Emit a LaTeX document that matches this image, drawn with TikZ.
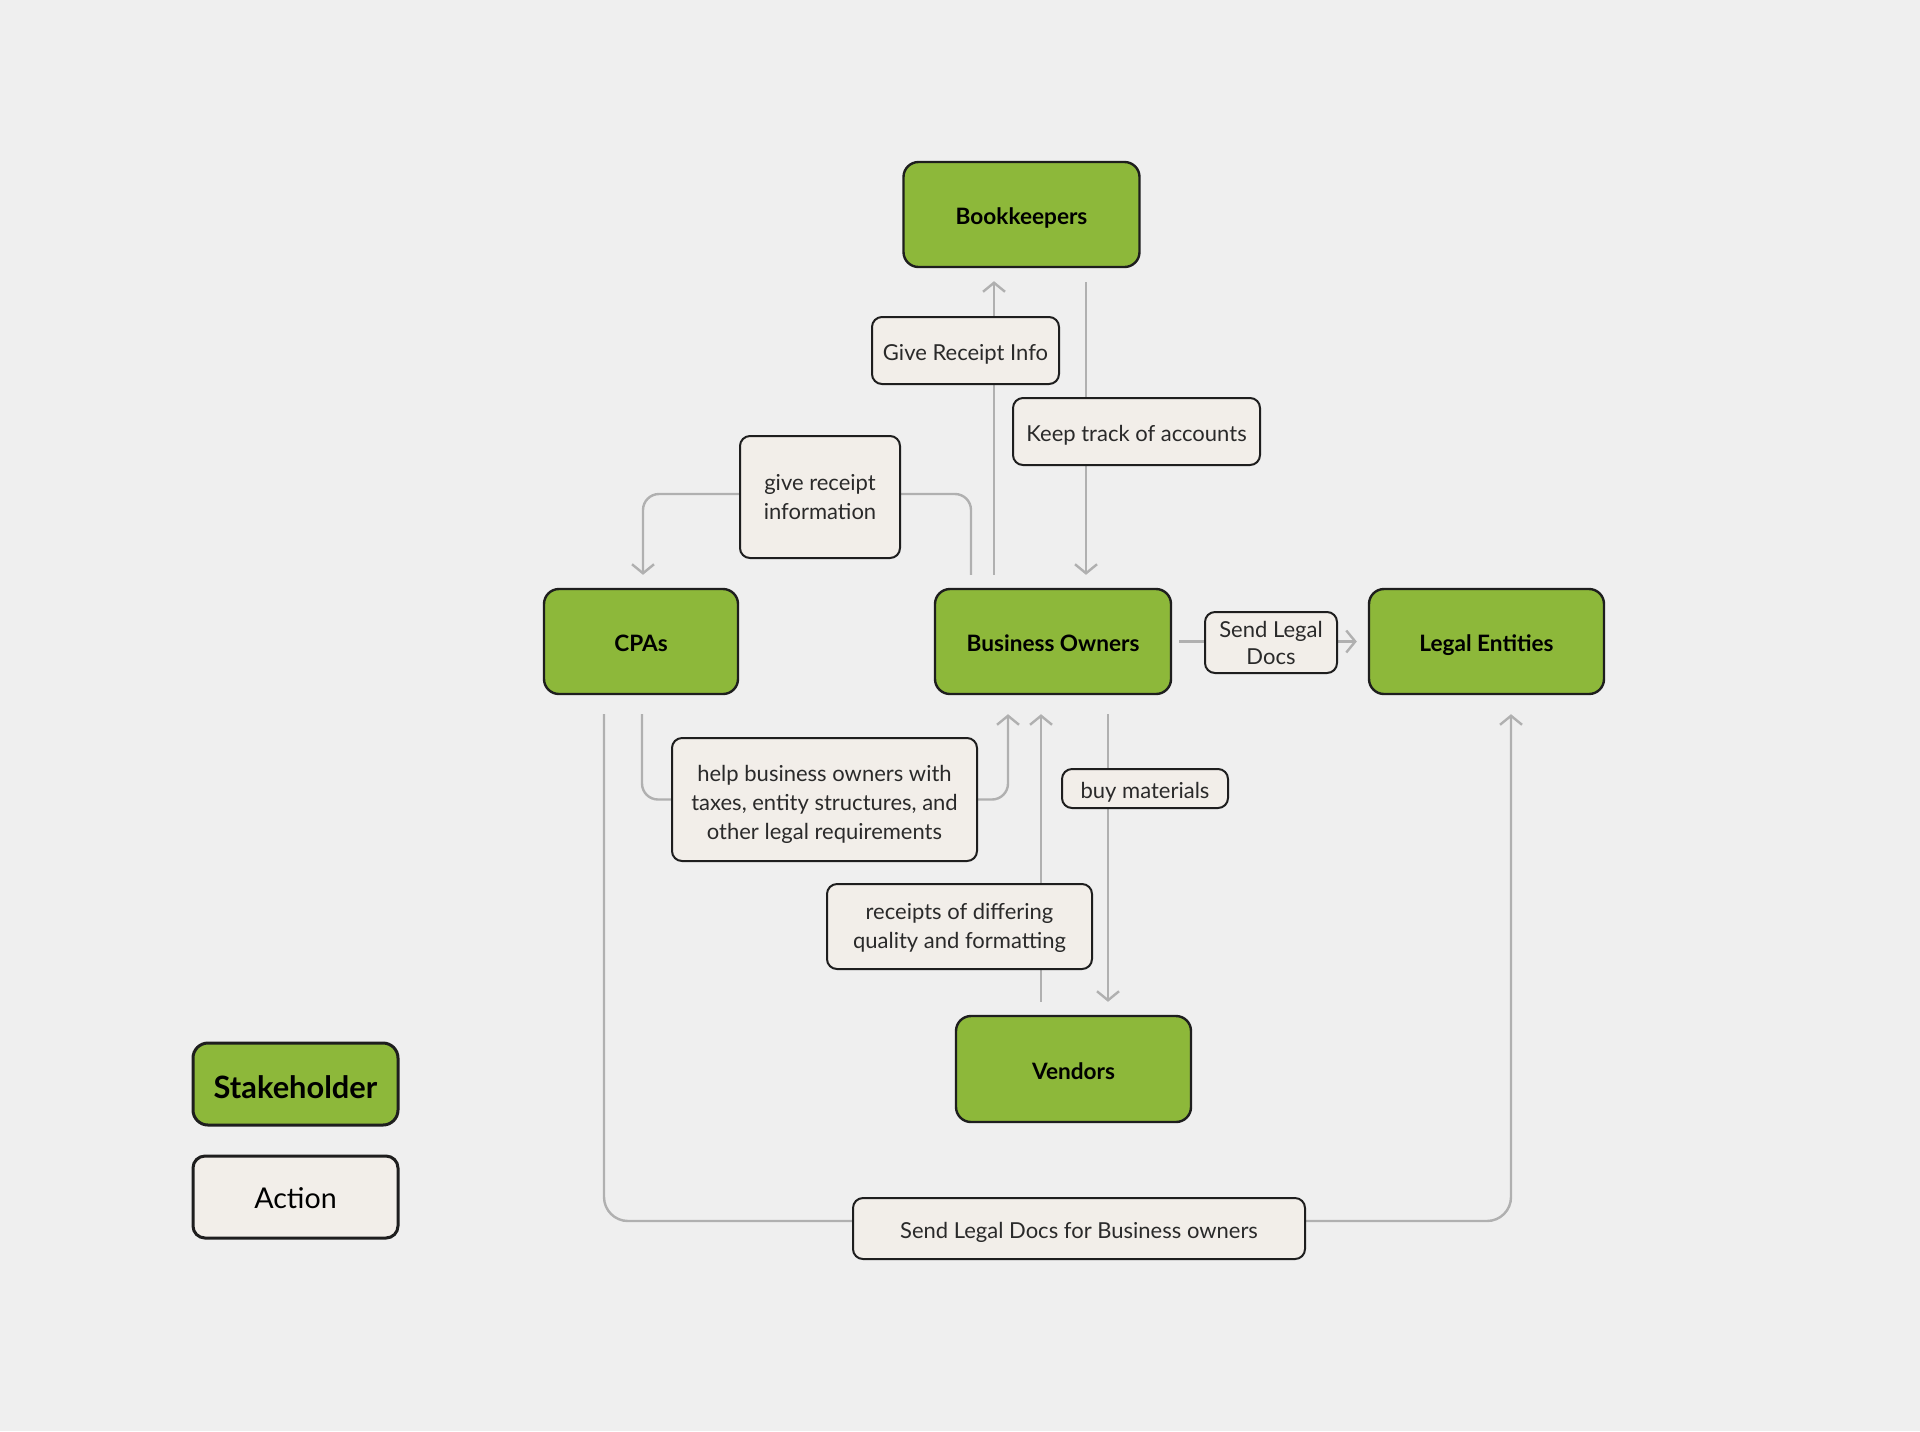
\documentclass[tikz,border=0pt]{standalone}
\usepackage{fontspec}
\setmainfont{Lato}
\usetikzlibrary{calc,arrows.meta}
\definecolor{bgc}{HTML}{EFEFEF}
\definecolor{grn}{HTML}{8DB83A}
\definecolor{actfill}{HTML}{F2EEE9}
\definecolor{bord}{HTML}{1E1E1E}
\definecolor{connc}{HTML}{B0B0B0}
\definecolor{txt}{HTML}{2A2A2A}
\pgfdeclarelayer{bglayer}
\pgfdeclarelayer{lines}
\pgfsetlayers{bglayer,lines,main}
\tikzset{
  stake/.style={draw=bord, line width=1.2pt, fill=grn, rounded corners=7.5pt,
    font=\bfseries\fontsize{11.3}{13.5}\selectfont, text=black, inner sep=0pt, align=center,
    text height=12.5pt, text depth=2.5pt},
  act/.style={draw=bord, line width=1pt, fill=actfill, rounded corners=5pt,
    font=\fontsize{11}{14.7}\selectfont, text=txt, inner sep=0pt, align=center},
  oneline/.style={text height=12.5pt, text depth=2.5pt},
  conn/.style={draw=connc, line width=1.2pt, rounded corners=8pt,
    -{Straight Barb[length=4.5pt,width=11pt,line width=1.2pt]}}
}
\begin{document}
\begin{tikzpicture}[x=0.5pt,y=-0.5pt]
\begin{pgfonlayer}{bglayer}
\fill[bgc] (0,0) rectangle (1920,1431);
\end{pgfonlayer}
\useasboundingbox (0,0) rectangle (1920,1431);
% stakeholders
\node[stake, minimum width=118pt, minimum height=52.5pt] (book) at (1021.5,214.5) {Bookkeepers};
\node[stake, minimum width=97pt, minimum height=52.5pt] (cpa) at (641,641.5) {CPAs};
\node[stake, minimum width=118pt, minimum height=52.5pt] (bo) at (1053,641.5) {Business Owners};
\node[stake, minimum width=117.5pt, minimum height=52.5pt] (le) at (1486.5,641.5) {Legal Entities};
\node[stake, minimum width=117.5pt, minimum height=53pt] (ven) at (1073.5,1069) {Vendors};
% actions
\node[act, oneline, minimum width=93.5pt, minimum height=33.5pt] (gri) at (965.5,350.5) {Give Receipt Info};
\node[act, oneline, minimum width=123.5pt, minimum height=33.5pt] (kta) at (1136.5,431.5) {Keep track of accounts};
\node[act, minimum width=80pt, minimum height=61pt] (gri2) at (820,497) {give receipt\\information};
\node[act, minimum width=152.5pt, minimum height=61.5pt] (help) at (824.5,799.5) {\rule{0pt}{13pt}help business owners with\\taxes, entity structures, and\\other legal requirements};
\node[act, oneline, minimum width=83pt, minimum height=19.5pt] (buy) at (1145,788.5) {buy materials};
\node[act, minimum width=132.5pt, minimum height=42.5pt] (rec) at (959.5,926.5) {\rule{0pt}{9.5pt}receipts of differing\\quality and formatting};
\node[act, minimum width=66pt, minimum height=30.5pt, font=\fontsize{11}{13.5}\selectfont] (sld) at (1271,642.5) {Send Legal\\Docs};
\node[act, oneline, minimum width=226pt, minimum height=30.5pt] (sldb) at (1079,1228.5) {Send Legal Docs for Business owners};
% legend
\node[stake, line width=1.5pt, minimum width=102.5pt, minimum height=41pt, font=\bfseries\fontsize{15.4}{18}\selectfont, text height=17pt, text depth=3pt] (lgs) at (295.5,1084) {Stakeholder};
\node[act, line width=1.5pt, minimum width=102.5pt, minimum height=41pt, rounded corners=6pt, font=\fontsize{14.3}{17}\selectfont, text=black, text height=14.6pt, text depth=3pt] (lga) at (295.5,1197) {Action};
% connectors
\begin{pgfonlayer}{lines}
\draw[conn] ($(bo.north)+(-59,-13)$) -- ($(book.south)+(-27.5,13)$);
\draw[conn] ($(book.south)+(64.5,14)$) -- ($(bo.north)+(33,-13)$);
\draw[conn] ($(bo.north)+(-82,-13)$) |- ($(gri2.center)+(0,-3)$) -| ($(cpa.north)+(2,-13)$);
\draw[conn] ($(cpa.south)+(1,19)$) |- (help.center) -| ($(bo.south)+(-45,19)$);
\draw[conn] ($(ven.north)+(-32.5,-13)$) -- ($(bo.south)+(-12,19)$);
\draw[conn] ($(bo.south)+(55,19)$) -- ($(ven.north)+(34.5,-13)$);
\draw[conn] ($(bo.east)+(7,0)$) -- ($(le.west)+(-11,0)$);
\coordinate (m) at ($(sldb.center)+(0,-7.5)$);
\draw[conn, rounded corners=12pt] ($(cpa.south)+(-37,19)$) |- (m) -| ($(le.south)+(24.5,19)$);
\end{pgfonlayer}
\end{tikzpicture}
\end{document}
